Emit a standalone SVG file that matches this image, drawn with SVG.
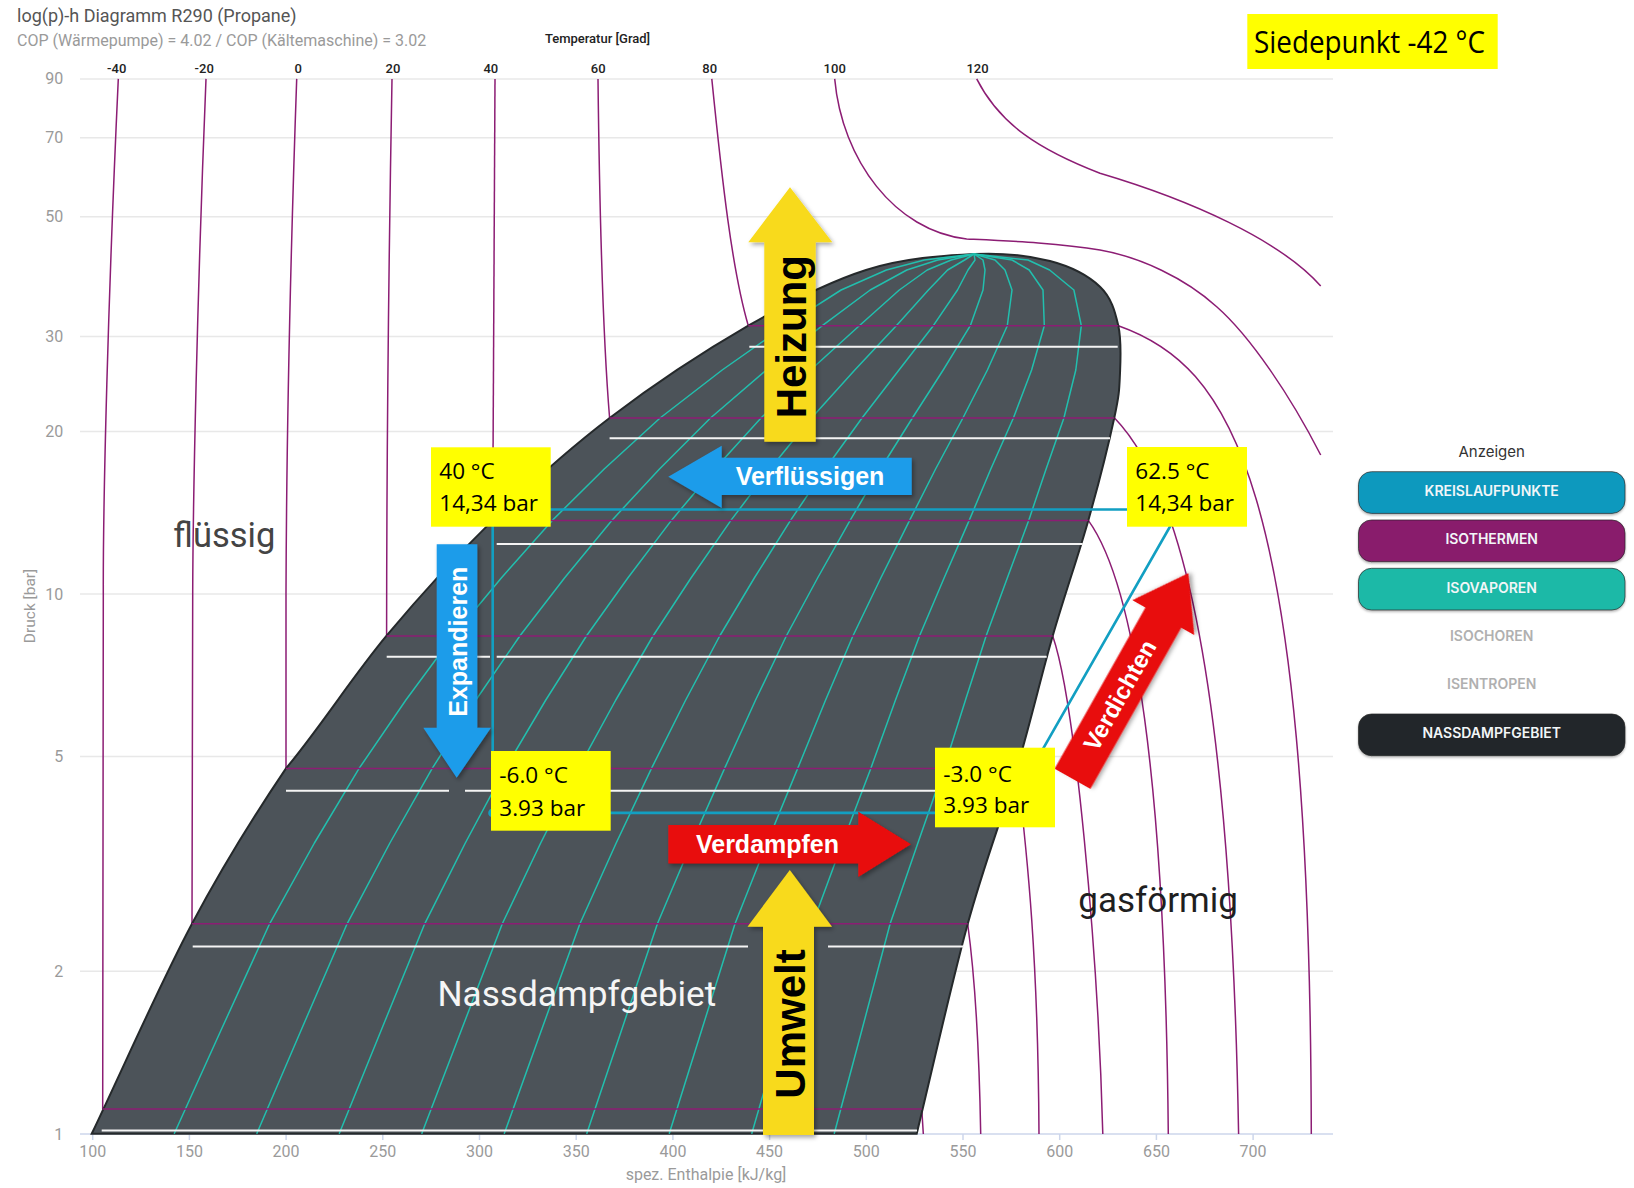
<svg xmlns="http://www.w3.org/2000/svg" width="1634" height="1188" viewBox="0 0 1634 1188">
<defs>
<style>
.grid{stroke:#e8e8e8;stroke-width:1.5}
.ax{stroke:#ccd6eb;stroke-width:1.5}
.yl{font-family:Roboto,"Liberation Sans",sans-serif;font-size:16px;fill:#9a9a9a;text-anchor:end}
.xl{font-family:Roboto,"Liberation Sans",sans-serif;font-size:16px;fill:#9a9a9a;text-anchor:middle}
.tl{font-family:Roboto,"Liberation Sans",sans-serif;font-size:13px;font-weight:500;fill:#222;text-anchor:middle}
.iso{fill:none;stroke:#8c1d74;stroke-width:1.5}
.vap{fill:none;stroke:#22bfae;stroke-width:1.5;stroke-linejoin:round}
.wl{stroke:#f4f4f4;stroke-width:2}
.cyc{stroke:#129fc2;stroke-width:2.6;fill:none}
.box{fill:#ffff00}
.bt{font-family:"Open Sans","Noto Sans",sans-serif;font-size:22.5px;fill:#000}
.at{font-family:"Liberation Sans",Arial,sans-serif;font-weight:bold}
.reg{font-family:Roboto,"Liberation Sans",sans-serif}
.btn{stroke:#2b2b2b;stroke-opacity:0.7;stroke-width:1}
.btt{font-family:Inter,"Liberation Sans",sans-serif;font-size:14px;font-weight:600;fill:#f2f6f8;text-anchor:middle}
.btg{font-family:Inter,"Liberation Sans",sans-serif;font-size:14px;font-weight:600;fill:#b0b0b0;text-anchor:middle}
</style>
<filter id="sh" x="-20%" y="-20%" width="140%" height="140%">
<feDropShadow dx="2" dy="2.5" stdDeviation="2" flood-color="#000" flood-opacity="0.35"/>
</filter>
<filter id="bsh" x="-5%" y="-20%" width="110%" height="150%">
<feDropShadow dx="0" dy="1.5" stdDeviation="1.2" flood-color="#000" flood-opacity="0.3"/>
</filter>
</defs>
<rect width="1634" height="1188" fill="#ffffff"/>

<g id="header">
<text x="17" y="22" font-family="Roboto,'Liberation Sans',sans-serif" font-size="18" fill="#555">log(p)-h Diagramm R290 (Propane)</text>
<text x="17" y="46" font-family="Roboto,'Liberation Sans',sans-serif" font-size="16" fill="#9a9a9a">COP (Wärmepumpe) = 4.02 / COP (Kältemaschine) = 3.02</text>
<text x="597.5" y="43" class="tl">Temperatur [Grad]</text>
</g>

<g id="siedepunkt">
<rect x="1247.3" y="14" width="250.4" height="55" class="box"/>
<text x="1254" y="52.7" font-family="'Open Sans','Noto Sans',sans-serif" font-size="31.5" fill="#000" textLength="231" lengthAdjust="spacingAndGlyphs">Siedepunkt -42 °C</text>
</g>

<g id="grid">
<line x1="80" y1="78.9" x2="1333" y2="78.9" class="grid"/>
<line x1="80" y1="137.8" x2="1333" y2="137.8" class="grid"/>
<line x1="80" y1="216.7" x2="1333" y2="216.7" class="grid"/>
<line x1="80" y1="336.5" x2="1333" y2="336.5" class="grid"/>
<line x1="80" y1="431.5" x2="1333" y2="431.5" class="grid"/>
<line x1="80" y1="594" x2="1333" y2="594" class="grid"/>
<line x1="80" y1="756.5" x2="1333" y2="756.5" class="grid"/>
<line x1="80" y1="971.3" x2="1333" y2="971.3" class="grid"/>
<line x1="80" y1="1134" x2="1333" y2="1134" class="ax"/>
<g class="ax">
<line x1="92.7" y1="1134" x2="92.7" y2="1140"/>
<line x1="189.4" y1="1134" x2="189.4" y2="1140"/>
<line x1="286.1" y1="1134" x2="286.1" y2="1140"/>
<line x1="382.8" y1="1134" x2="382.8" y2="1140"/>
<line x1="479.5" y1="1134" x2="479.5" y2="1140"/>
<line x1="576.2" y1="1134" x2="576.2" y2="1140"/>
<line x1="672.9" y1="1134" x2="672.9" y2="1140"/>
<line x1="769.6" y1="1134" x2="769.6" y2="1140"/>
<line x1="866.3" y1="1134" x2="866.3" y2="1140"/>
<line x1="963" y1="1134" x2="963" y2="1140"/>
<line x1="1059.7" y1="1134" x2="1059.7" y2="1140"/>
<line x1="1156.4" y1="1134" x2="1156.4" y2="1140"/>
<line x1="1253.1" y1="1134" x2="1253.1" y2="1140"/>
</g>
</g>

<g id="y-axis">
<text x="63.3" y="84.4" class="yl">90</text>
<text x="63.3" y="143.3" class="yl">70</text>
<text x="63.3" y="222.2" class="yl">50</text>
<text x="63.3" y="342" class="yl">30</text>
<text x="63.3" y="437" class="yl">20</text>
<text x="63.3" y="599.5" class="yl">10</text>
<text x="63.3" y="762" class="yl">5</text>
<text x="63.3" y="976.8" class="yl">2</text>
<text x="63.3" y="1139.5" class="yl">1</text>
<text transform="translate(34.5,606) rotate(-90)" font-family="Roboto,'Liberation Sans',sans-serif" font-size="15.5" fill="#9a9a9a" text-anchor="middle">Druck [bar]</text>
</g>

<g id="x-axis">
<text x="92.7" y="1157.3" class="xl">100</text>
<text x="189.4" y="1157.3" class="xl">150</text>
<text x="286.1" y="1157.3" class="xl">200</text>
<text x="382.8" y="1157.3" class="xl">250</text>
<text x="479.5" y="1157.3" class="xl">300</text>
<text x="576.2" y="1157.3" class="xl">350</text>
<text x="672.9" y="1157.3" class="xl">400</text>
<text x="769.6" y="1157.3" class="xl">450</text>
<text x="866.3" y="1157.3" class="xl">500</text>
<text x="963" y="1157.3" class="xl">550</text>
<text x="1059.7" y="1157.3" class="xl">600</text>
<text x="1156.4" y="1157.3" class="xl">650</text>
<text x="1253.1" y="1157.3" class="xl">700</text>
<text x="706" y="1180" class="xl">spez. Enthalpie [kJ/kg]</text>
</g>

<g id="temperature-labels">
<text x="116.7" y="73" class="tl">-40</text>
<text x="204.2" y="73" class="tl">-20</text>
<text x="298.3" y="73" class="tl">0</text>
<text x="393" y="73" class="tl">20</text>
<text x="490.8" y="73" class="tl">40</text>
<text x="598.2" y="73" class="tl">60</text>
<text x="709.7" y="73" class="tl">80</text>
<text x="834.7" y="73" class="tl">100</text>
<text x="977.5" y="73" class="tl">120</text>
</g>

<g id="isotherms-outside" class="iso">
<path d="M118.3,78.9 C108,300 103,500 103.3,594 L102.7,1109"/>
<path d="M206,78.9 C197,300 193,500 192.7,594 L192,923.8"/>
<path d="M296.7,78.9 C289,300 286.3,500 286,594 L286,768.4"/>
<path d="M392,78.9 C388,300 386.7,450 386.6,635.7"/>
<path d="M495,78.9 C493.5,300 492.8,420 492.7,520.4"/>
<path d="M598,78.9 C600,250 604,350 609.6,418"/>
<path d="M711.8,78.9 C722,180 732,270 748.3,325.7"/>
<path d="M834.7,78.9 C842,160 895,231 966.7,239 C1010,241 1060,243 1100,250 C1140,257 1185,278 1216.7,306.7 C1250,336 1290,395 1320.7,455"/>
<path d="M976.7,78.9 C1000,125 1040,150 1100,173.3 C1190,200 1280,240 1320.7,286"/>
<path d="M921.7,1108 L923.3,1134"/>
<path d="M967.7,924 C974,970 979,1040 980.7,1134"/>
<path d="M1017,768 C1028,860 1038,960 1039,1134"/>
<path d="M1052.7,636 C1075,700 1098,950 1102.8,1134"/>
<path d="M1088.3,520.4 C1135,585 1165,780 1168.3,1134"/>
<path d="M1114.3,417.7 C1175,480 1230,650 1238.6,1134"/>
<path d="M1118.3,325.7 C1230,365 1310,480 1311.3,1134"/>
</g>

<g id="nassdampfgebiet">
<path d="M91.7,1133.8 C125.1,1063.8 159.6,984.7 192,923.8 C224.4,862.9 253.6,816.4 286,768.4 C320.4,727.1 352.2,677 386.6,635.7 C421.1,594.4 455.5,556.7 492.7,520.4 C529.9,484.1 567,450.5 609.6,418 C652.2,385.6 705.6,350.4 748.3,325.7 C791,301 828.4,282 866,270 C903.6,258.1 943.3,255.5 974,254 C1004.7,252.5 1029,255.6 1050,261 C1071,266.5 1088.6,275.9 1100,286.7 C1111.4,297.5 1115,311.3 1118.3,325.7 C1121.6,340.1 1120.7,357.7 1120,373 C1119.3,388.3 1119.6,393.1 1114.3,417.7 C1109,442.3 1098.6,484 1088.3,520.4 C1078,556.8 1064.6,594.7 1052.7,636 C1040.8,677.3 1031.2,720 1017,768 C1002.8,816 984.4,863 967.7,924 C951,985 933.7,1063.9 916.7,1133.8 Z" fill="#4c5359" stroke="#25292b" stroke-width="2"/>
</g>

<g id="isovaporen" class="vap">
<polyline points="174.2,1133.8 221.1,1030 269.6,923.8 314.4,843 359.1,768.4 405.9,700 453.2,636 501.3,578 552.3,520.4 604.2,469 660.1,418 722.2,370 785.3,325.7 841.1,290 886.4,270 924.4,260 974,254"/>
<polyline points="256.7,1133.8 301.2,1030 347.1,923.8 389.9,843 432.2,768.4 475.9,700 519.8,636 564.5,578 611.8,520.4 659.5,469 710.5,418 766.4,370 822.3,325.7 870.2,290 906.8,270 937.8,260 974,254"/>
<polyline points="339.2,1133.8 381.3,1030 424.7,923.8 465.3,843 505.3,768.4 545.8,700 586.4,636 627.8,578 671.4,520.4 714.7,469 761,418 810.6,370 859.3,325.7 899.3,290 927.2,270 951.2,260 974,254"/>
<polyline points="421.7,1133.8 461.4,1030 502.3,923.8 540.7,843 578.4,768.4 615.8,700 653,636 691,578 730.9,520.4 769.9,469 811.5,418 854.8,370 896.3,325.7 928.4,290 947.6,270 964.6,260 974,254"/>
<polyline points="504.2,1133.8 541.5,1030 579.9,923.8 616.2,843 651.5,768.4 685.7,700 719.7,636 754.3,578 790.5,520.4 825.2,469 862,418 899,370 933.3,325.7 957.5,290 968,270 975,260 974,254"/>
<polyline points="586.7,1133.8 621.6,1030 657.4,923.8 691.6,843 724.6,768.4 755.6,700 786.3,636 817.6,578 850.1,520.4 880.4,469 912.4,418 943.2,370 970.3,325.7 983,290 985,270 983,260 974,254"/>
<polyline points="669.2,1133.8 701.7,1030 735,923.8 767,843 797.7,768.4 825.6,700 852.9,636 880.8,578 909.6,520.4 935.6,469 962.9,418 987.4,370 1007.3,325.7 1012,290 1005,270 995,260 974,254"/>
<polyline points="751.7,1133.8 781.8,1030 812.6,923.8 842.4,843 870.8,768.4 895.5,700 919.5,636 944.1,578 969.2,520.4 990.8,469 1013.4,418 1031.6,370 1044.3,325.7 1043,290 1029.2,270 1012,260 974,254"/>
<polyline points="834.2,1133.8 861.9,1030 890.1,923.8 917.9,843 943.9,768.4 965.5,700 986.1,636 1007.3,578 1028.7,520.4 1046.1,469 1063.9,418 1075.8,370 1081.3,325.7 1073.9,290 1049.6,270 1028,260 974,254"/>
</g>

<g id="isotherms-saturation" class="iso">
<line x1="102.7" y1="1109" x2="921.7" y2="1109"/>
<line x1="192" y1="923.8" x2="967.7" y2="923.8"/>
<line x1="286" y1="768.4" x2="1017" y2="768.4"/>
<line x1="386.6" y1="636" x2="1052.7" y2="636"/>
<line x1="492.7" y1="520.4" x2="1088.3" y2="520.4"/>
<line x1="609.6" y1="418" x2="1114.3" y2="418"/>
<line x1="748.3" y1="325.7" x2="1118.3" y2="325.7"/>
</g>

<g id="white-lines" class="wl">
<line x1="101.7" y1="1130.4" x2="917" y2="1130.4"/>
<line x1="192.7" y1="946.5" x2="748" y2="946.5"/>
<line x1="828" y1="946.5" x2="964" y2="946.5"/>
<line x1="286" y1="790.7" x2="449" y2="790.7"/>
<line x1="465" y1="790.7" x2="1010" y2="790.7"/>
<line x1="386.7" y1="656.7" x2="490" y2="656.7"/>
<line x1="496.7" y1="656.7" x2="1046.7" y2="656.7"/>
<line x1="496.7" y1="544" x2="1082.7" y2="544"/>
<line x1="609.6" y1="438.3" x2="1110" y2="438.3"/>
<line x1="749.3" y1="346.7" x2="1117.7" y2="346.7"/>
</g>

<g id="kreislauf" class="cyc">
<path d="M492.7,509.5 H1179.8 L1006.4,812.9 H492.7 Z"/>
<circle cx="492.7" cy="812.9" r="4.5" fill="#129fc2" stroke="none"/>
</g>

<g id="region-labels">
<text x="173.3" y="546.8" class="reg" font-size="34.5" fill="#444">flüssig</text>
<text x="1078.3" y="911.7" class="reg" font-size="35" fill="#1f1f1f">gasförmig</text>
<text x="437.4" y="1006" class="reg" font-size="35.2" fill="#f5f5f5">Nassdampfgebiet</text>
</g>

<g id="arrow-heizung">
<polygon points="790,187.3 832.3,242.3 815.7,242.3 815.7,441.7 764.3,441.7 764.3,242.3 748.3,242.3" fill="#f8da1a" filter="url(#sh)"/>
<text transform="translate(806,336.7) rotate(-90)" class="at" font-size="42" fill="#000" text-anchor="middle">Heizung</text>
</g>

<g id="arrow-umwelt">
<polygon points="789.8,870 832,926.7 814,926.7 814,1135 763,1135 763,926.7 747.5,926.7" fill="#f8da1a" filter="url(#sh)"/>
<text transform="translate(805,1024) rotate(-90)" class="at" font-size="42" fill="#000" text-anchor="middle">Umwelt</text>
</g>

<g id="arrow-verfluessigen">
<polygon points="668.3,476.7 721.7,445.7 721.7,457.7 911.7,457.7 911.7,495 721.7,495 721.7,508" fill="#1e9cea" filter="url(#sh)"/>
<text x="810" y="485.3" class="at" font-size="25" fill="#fff" text-anchor="middle">Verflüssigen</text>
</g>

<g id="arrow-expandieren">
<polygon points="436.7,544.3 477.3,544.3 477.3,727.7 491,727.7 456.7,777.7 423.3,727.7 436.7,727.7" fill="#1e9cea" filter="url(#sh)"/>
<text transform="translate(466.7,641.7) rotate(-90)" class="at" font-size="25" fill="#fff" text-anchor="middle">Expandieren</text>
</g>

<g id="arrow-verdampfen">
<polygon points="668.3,825 858.3,825 858.3,811.7 911,844.3 858.3,877 858.3,863.6 668.3,863.6" fill="#e80a0a" filter="url(#sh)"/>
<text x="767.5" y="853.2" class="at" font-size="25" fill="#fff" text-anchor="middle">Verdampfen</text>
</g>

<g id="arrow-verdichten" transform="translate(1072.5,778.8) rotate(-60.6)">
<polygon points="0,-20.5 185,-20.5 185,-35.5 236,0 185,35.5 185,20.5 0,20.5" fill="#e80a0a" filter="url(#sh)"/>
<text x="96" y="8.5" class="at" font-size="24" fill="#fff" text-anchor="middle">Verdichten</text>
</g>

<g id="point-40C">
<rect x="431" y="447.3" width="119.7" height="79.4" class="box"/>
<text x="439.3" y="479.3" class="bt">40 °C</text>
<text x="439.3" y="511" class="bt">14,34 bar</text>
</g>
<g id="point-minus6C">
<rect x="491" y="751" width="119.7" height="79.7" class="box"/>
<text x="499.3" y="783.3" class="bt">-6.0 °C</text>
<text x="499.3" y="816" class="bt">3.93 bar</text>
</g>
<g id="point-62C">
<rect x="1127" y="447" width="120" height="79.7" class="box"/>
<text x="1135.3" y="479.3" class="bt">62.5 °C</text>
<text x="1135.3" y="511" class="bt">14,34 bar</text>
</g>
<g id="point-minus3C">
<rect x="935" y="747.7" width="120" height="79.6" class="box"/>
<text x="943.3" y="781.7" class="bt">-3.0 °C</text>
<text x="943.3" y="812.7" class="bt">3.93 bar</text>
</g>

<g id="legend">
<text x="1491.7" y="457" font-family="Inter,'Liberation Sans',sans-serif" font-size="15" fill="#333" text-anchor="middle">Anzeigen</text>
<g id="btn-kreislaufpunkte">
<rect x="1358.5" y="471.7" width="266.5" height="41.7" rx="13" fill="#1099be" class="btn" filter="url(#bsh)"/>
<text x="1491.7" y="495.7" class="btt">KREISLAUFPUNKTE</text>
</g>
<g id="btn-isothermen">
<rect x="1358.5" y="520" width="266.5" height="41.7" rx="13" fill="#891a6c" class="btn" filter="url(#bsh)"/>
<text x="1491.7" y="544.3" class="btt">ISOTHERMEN</text>
</g>
<g id="btn-isovaporen">
<rect x="1358.5" y="568.3" width="266.5" height="41.7" rx="13" fill="#1db9a7" class="btn" filter="url(#bsh)"/>
<text x="1491.7" y="593.3" class="btt">ISOVAPOREN</text>
</g>
<g id="btn-isochoren">
<text x="1491.7" y="641" class="btg">ISOCHOREN</text>
</g>
<g id="btn-isentropen">
<text x="1491.7" y="689.3" class="btg">ISENTROPEN</text>
</g>
<g id="btn-nassdampfgebiet">
<rect x="1358.5" y="714" width="266.5" height="41.7" rx="13" fill="#212629" class="btn" filter="url(#bsh)"/>
<text x="1491.7" y="737.7" class="btt">NASSDAMPFGEBIET</text>
</g>
</g>
</svg>
